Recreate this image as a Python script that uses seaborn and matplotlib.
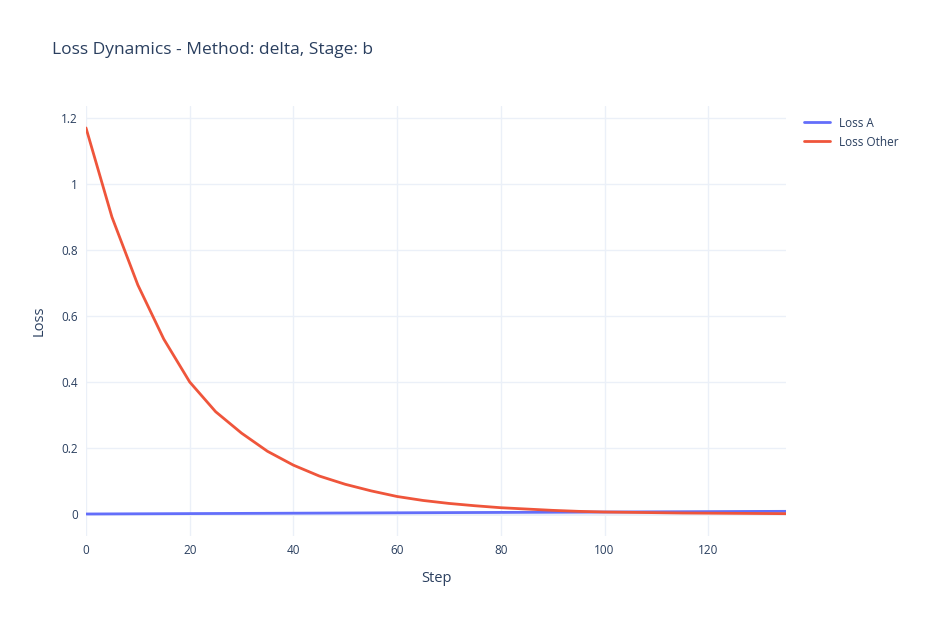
import numpy as np
import pandas as pd
import matplotlib.pyplot as plt
import seaborn as sns

steps = list(range(0, 136, 5))
loss_other = [1.17, 0.90, 0.694, 0.53, 0.40, 0.31, 0.245, 0.19, 0.148, 0.115,
              0.09, 0.07, 0.053, 0.041, 0.032, 0.025, 0.019, 0.015, 0.011, 0.008,
              0.006, 0.005, 0.004, 0.003, 0.0025, 0.002, 0.0015, 0.001]
loss_a = [0.0, 0.0003, 0.0006, 0.0009, 0.0012, 0.0015, 0.0018, 0.0021, 0.0024, 0.0027,
          0.003, 0.0033, 0.0036, 0.0039, 0.0042, 0.0045, 0.0048, 0.0051, 0.0054, 0.0057,
          0.006, 0.0063, 0.0066, 0.0069, 0.0072, 0.0075, 0.0078, 0.008]

df = pd.DataFrame({"Step": steps * 2,
                   "Loss": loss_a + loss_other,
                   "Series": ["Loss A"] * len(steps) + ["Loss Other"] * len(steps)})

sns.set_style("white")
plt.rcParams["font.family"] = ["Open Sans", "DejaVu Sans"]
txt = "#2a3f5f"

fig = plt.figure(figsize=(9.3, 6.2), dpi=100)
ax = fig.add_axes([86 / 930, 1 - 536 / 620, 700 / 930, 430 / 620])
sns.lineplot(data=df, x="Step", y="Loss", hue="Series",
             palette={"Loss A": "#636efa", "Loss Other": "#ef553b"},
             linewidth=2, ax=ax)

ax.set_xlim(0, 135)
ax.set_ylim(-0.0667, 1.2364)
ax.set_xticks([0, 20, 40, 60, 80, 100, 120])
ax.set_yticks([0, 0.2, 0.4, 0.6, 0.8, 1, 1.2])
ax.set_yticklabels(["0", "0.2", "0.4", "0.6", "0.8", "1", "1.2"])
ax.grid(True, color="#ebf0f8", linewidth=1)
ax.axhline(0, color="#ebf0f8", linewidth=2, zorder=0)
for s in ax.spines.values():
    s.set_visible(False)
ax.tick_params(colors=txt, labelsize=8.5, length=0, pad=6)
ax.set_xlabel("Step", color=txt, fontsize=10.5, labelpad=10)
ax.set_ylabel("Loss", color=txt, fontsize=10.5, labelpad=10)

leg = ax.legend(loc="upper left", bbox_to_anchor=(1.01, 1.0), frameon=False,
                fontsize=8.5, handlelength=2.2)
for t in leg.get_texts():
    t.set_color(txt)

fig.text(52 / 930, 1 - 50 / 620, "Loss Dynamics - Method: delta, Stage: b",
         color=txt, fontsize=12.5, va="center")

fig.savefig("out.png", dpi=100)
